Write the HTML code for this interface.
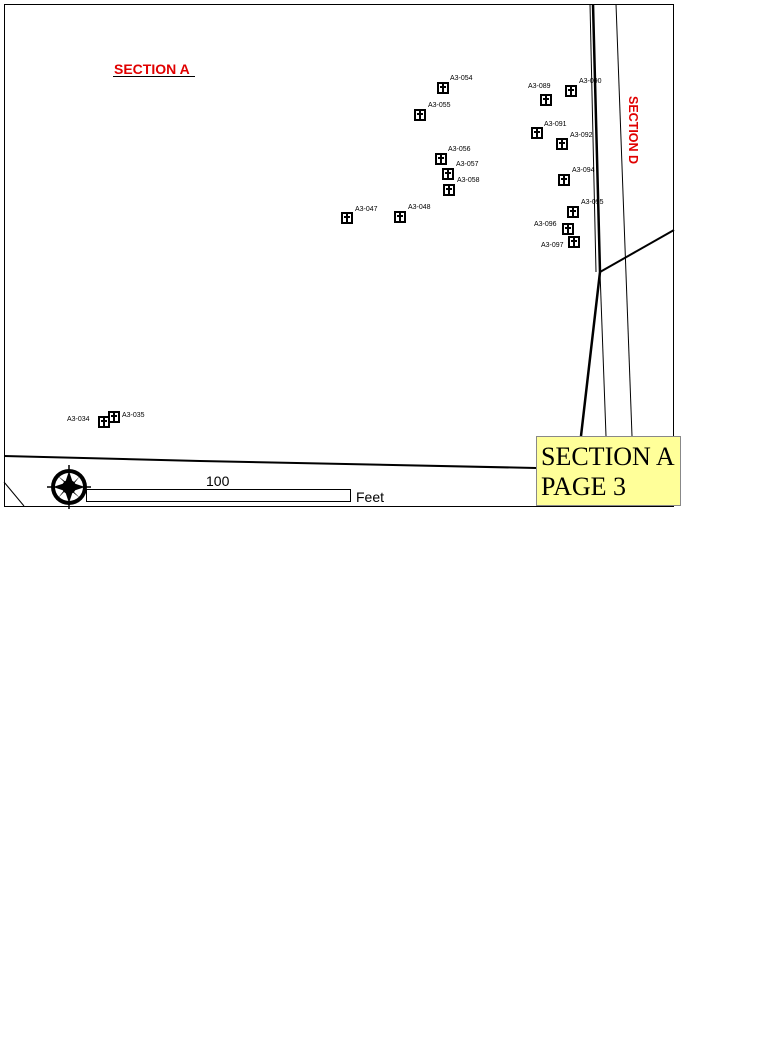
<!DOCTYPE html>
<html><head><meta charset="utf-8"><style>
html,body{margin:0;padding:0;background:#fff;}
svg{display:block;}
text{font-family:"Liberation Sans",sans-serif;}
</style></head><body>
<svg width="768" height="1056" viewBox="0 0 768 1056" xmlns="http://www.w3.org/2000/svg">
<defs>
<g id="m">
<rect x="-6" y="-6" width="12" height="12" fill="#000"/>
<rect x="-4" y="-4" width="8" height="8" fill="#fff"/>
<rect x="-1" y="-4" width="2" height="8" fill="#000"/>
<rect x="-3" y="-2" width="6" height="2" fill="#000"/>
</g>
</defs>
<rect x="4.5" y="4.5" width="669" height="502" fill="none" stroke="#000" stroke-width="1"/>
<polyline points="590,4 596,272" fill="none" stroke="#000" stroke-width="1"/>
<polyline points="593,4 600,272 581,436" fill="none" stroke="#000" stroke-width="2.5"/>
<line x1="600" y1="272" x2="606" y2="436" stroke="#000" stroke-width="1"/>
<line x1="616" y1="4" x2="632" y2="436" stroke="#000" stroke-width="1"/>
<line x1="600" y1="272" x2="674" y2="230" stroke="#000" stroke-width="2"/>
<polyline points="4,456 200,461 536,468" fill="none" stroke="#000" stroke-width="2"/>
<line x1="4" y1="482" x2="24" y2="506" stroke="#000" stroke-width="1"/>
<text x="114" y="74" font-size="14" font-weight="bold" fill="#e00000">SECTION A</text>
<line x1="113" y1="76.5" x2="195" y2="76.5" stroke="#000" stroke-width="1"/>
<text transform="translate(629,96) rotate(90)" font-size="12.5" font-weight="bold" fill="#e00000">SECTION D</text>
<use href="#m" x="443" y="88"/><use href="#m" x="420" y="115"/>
<use href="#m" x="441" y="159"/><use href="#m" x="448" y="174"/><use href="#m" x="449" y="190"/>
<use href="#m" x="347" y="218"/><use href="#m" x="400" y="217"/>
<use href="#m" x="546" y="100"/><use href="#m" x="571" y="91"/>
<use href="#m" x="537" y="133"/><use href="#m" x="562" y="144"/>
<use href="#m" x="564" y="180"/><use href="#m" x="573" y="212"/>
<use href="#m" x="568" y="229"/><use href="#m" x="574" y="242"/>
<use href="#m" x="104" y="422"/><use href="#m" x="114" y="417"/>
<g font-size="7" fill="#000">
<text x="450" y="80">A3-054</text><text x="428" y="107">A3-055</text>
<text x="448" y="151">A3-056</text><text x="456" y="166">A3-057</text><text x="457" y="182">A3-058</text>
<text x="355" y="211">A3-047</text><text x="408" y="209">A3-048</text>
<text x="528" y="88">A3-089</text><text x="579" y="83">A3-090</text>
<text x="544" y="126">A3-091</text><text x="570" y="137">A3-092</text>
<text x="572" y="172">A3-094</text><text x="581" y="204">A3-095</text>
<text x="534" y="226">A3-096</text><text x="541" y="247">A3-097</text>
<text x="67" y="421">A3-034</text><text x="122" y="417">A3-035</text>
</g>
<rect x="86.5" y="489.5" width="264" height="12" fill="#fff" stroke="#000" stroke-width="1"/>
<text x="206" y="486" font-size="14">100</text>
<text x="356" y="502" font-size="14">Feet</text>
<g transform="translate(69,487)">
<line x1="0" y1="-22" x2="0" y2="22" stroke="#000" stroke-width="1.5"/>
<line x1="-22" y1="0" x2="22" y2="0" stroke="#000" stroke-width="1.5"/>
<circle r="18" fill="#000"/>
<circle r="14" fill="#fff"/>
<polygon points="0,-16 4,-4 16,0 4,4 0,16 -4,4 -16,0 -4,-4" fill="#000"/>
<polygon points="-11,-11 -2,-4 4,-4 11,-11 4,-2 4,4 11,11 2,4 -4,4 -11,11 -4,2 -4,-4" fill="#000"/>
<circle r="7" fill="#000"/>
</g>
<rect x="536.5" y="436.5" width="144" height="69" fill="#ffff99" stroke="#888" stroke-width="1"/>
<text x="541" y="465" font-size="26" style="font-family:'Liberation Serif',serif">SECTION A</text>
<text x="541" y="495" font-size="26" style="font-family:'Liberation Serif',serif">PAGE 3</text>
</svg>
</body></html>
